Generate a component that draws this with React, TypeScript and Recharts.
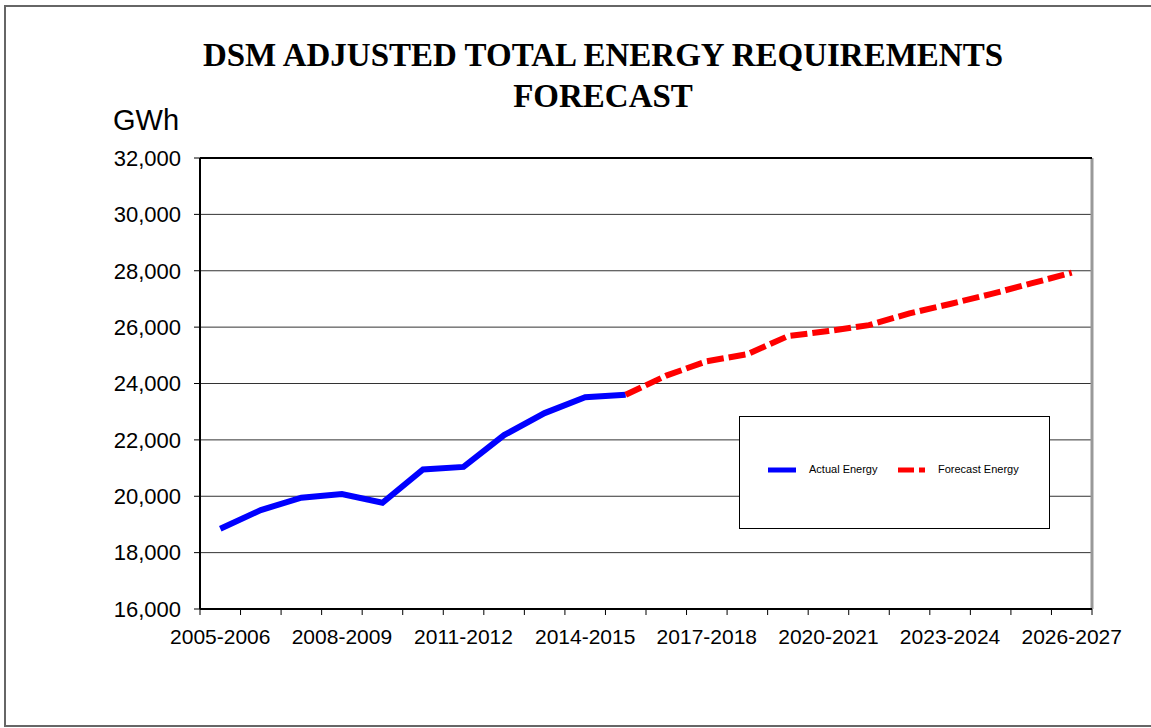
import React from "react";
import { LineChart, Line, XAxis, YAxis, CartesianGrid, ReferenceLine } from "recharts";

const seasons = [
  "2005-2006", "2006-2007", "2007-2008", "2008-2009", "2009-2010", "2010-2011",
  "2011-2012", "2012-2013", "2013-2014", "2014-2015", "2015-2016", "2016-2017",
  "2017-2018", "2018-2019", "2019-2020", "2020-2021", "2021-2022", "2022-2023",
  "2023-2024", "2024-2025", "2025-2026", "2026-2027",
];

const actualEnergy = [
  18850, 19510, 19950, 20080, 19770, 20950, 21040, 22170, 22950, 23510, 23600,
  null, null, null, null, null, null, null, null, null, null, null,
];

const forecastEnergy = [
  null, null, null, null, null, null, null, null, null, null, 23600,
  24280, 24790, 25040, 25680, 25860, 26070, 26490, 26820, 27170, 27550, 27930,
];

const yTicks = [16000, 18000, 20000, 22000, 24000, 26000, 28000, 30000, 32000];
const boundaryTicks = Array.from({ length: seasons.length + 1 }, (_, i) => i);

const data = seasons.map((season, i) => ({
  season,
  slot: i,
  actual: actualEnergy[i],
  forecast: forecastEnergy[i],
}));

const sans = "'Liberation Sans', Arial, sans-serif";
const serif = "'Liberation Serif', 'Times New Roman', serif";

const App: React.FC = () => {
  return (
    <div style={{ position: "absolute", left: 0, top: 0, width: 1151, height: 728, background: "#fff", overflow: "hidden" }}>
      <div style={{ position: "absolute", left: 4, top: 5, width: 1170, height: 718, border: "2px solid #666" }} />
      <LineChart
        width={1151}
        height={728}
        data={data}
        margin={{ top: 158, right: 59, bottom: 78, left: 0 }}
        style={{ position: "absolute", left: 0, top: 0 }}
      >
        <CartesianGrid xAxisId="cat" vertical={false} stroke="#333" strokeWidth={1} />
        <XAxis
          xAxisId="b"
          type="number"
          dataKey="slot"
          domain={[0, seasons.length]}
          allowDataOverflow
          ticks={boundaryTicks}
          tickFormatter={() => ""}
          tickSize={6}
          height={1}
          axisLine={{ stroke: "#000", strokeWidth: 2 }}
          tickLine={{ stroke: "#000" }}
        />
        <XAxis
          xAxisId="cat"
          dataKey="season"
          interval={2}
          padding={{ left: 20.27, right: 20.27 }}
          height={40}
          axisLine={false}
          tickLine={false}
          tickSize={6}
          tickMargin={13}
          tick={{ fill: "#000", fontSize: 21, fontFamily: sans }}
        />
        <YAxis
          domain={[16000, 32000]}
          ticks={yTicks}
          width={200}
          tickSize={6}
          tickMargin={13}
          axisLine={{ stroke: "#000", strokeWidth: 2 }}
          tickLine={{ stroke: "#000" }}
          tick={{ fill: "#000", fontSize: 22, fontFamily: sans }}
          tickFormatter={(v: number) => v.toLocaleString("en-US")}
        />
        <ReferenceLine xAxisId="b" x={seasons.length} stroke="#999" strokeWidth={3} />
        <ReferenceLine xAxisId="b" y={32000} stroke="#000" strokeWidth={2} />
        <Line
          xAxisId="cat"
          type="linear"
          dataKey="actual"
          stroke="#0000FF"
          strokeWidth={6}
          dot={false}
          activeDot={false}
          isAnimationActive={false}
        />
        <Line
          xAxisId="cat"
          type="linear"
          dataKey="forecast"
          stroke="#FF0000"
          strokeWidth={6}
          strokeDasharray="17 5"
          dot={false}
          activeDot={false}
          isAnimationActive={false}
        />
      </LineChart>
      <svg width={1151} height={728} style={{ position: "absolute", left: 0, top: 0, pointerEvents: "none" }}>
        <text x={603} y={66} textAnchor="middle" fontFamily={serif} fontWeight="bold" fontSize={33} fill="#000">
          DSM ADJUSTED TOTAL ENERGY REQUIREMENTS
        </text>
        <text x={603} y={107} textAnchor="middle" fontFamily={serif} fontWeight="bold" fontSize={33} fill="#000">
          FORECAST
        </text>
        <text x={113} y={130} fontFamily={sans} fontSize={29} fill="#000">
          GWh
        </text>
      </svg>
      <div
        style={{
          position: "absolute",
          left: 739,
          top: 416,
          width: 309,
          height: 111,
          border: "1px solid #000",
          background: "#fff",
        }}
      >
        <svg width={309} height={111} style={{ position: "absolute", left: 0, top: 0 }}>
          <line x1={28} x2={56} y1={53} y2={53} stroke="#0000FF" strokeWidth={5} />
          <text x={69} y={56} fontFamily={sans} fontSize={11} fill="#000">Actual Energy</text>
          <line x1={158} x2={185} y1={53} y2={53} stroke="#FF0000" strokeWidth={5} strokeDasharray="16 5" />
          <text x={198} y={56} fontFamily={sans} fontSize={11} fill="#000">Forecast Energy</text>
        </svg>
      </div>
    </div>
  );
};

export default App;
